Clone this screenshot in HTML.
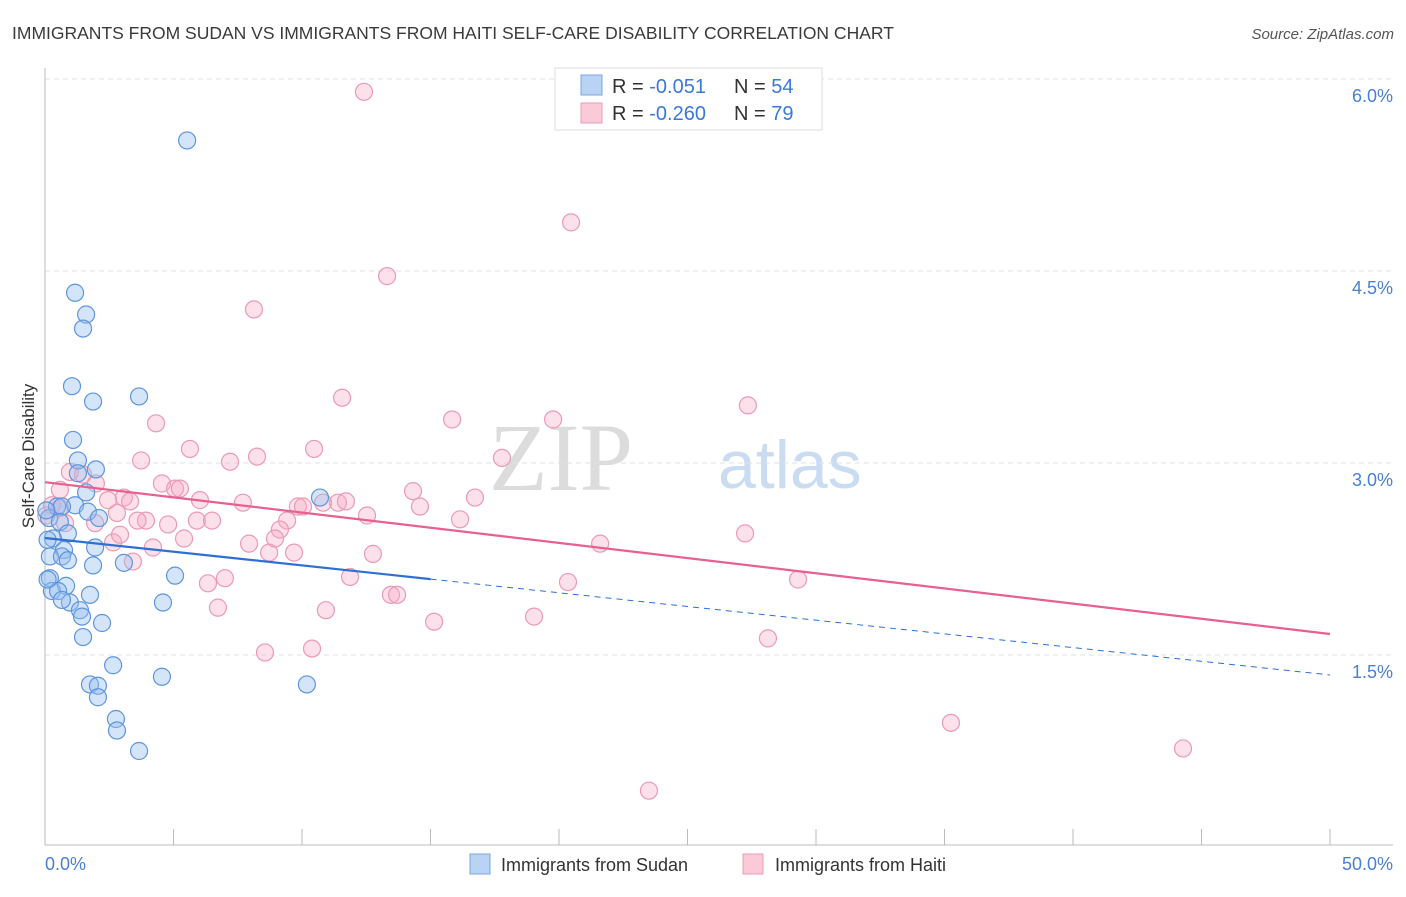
<!DOCTYPE html>
<html><head><meta charset="utf-8"><style>
body{margin:0;background:#fff;font-family:"Liberation Sans",sans-serif;}
svg text{font-family:"Liberation Sans",sans-serif;}
</style></head><body>
<svg id="chart" width="1406" height="892" viewBox="0 0 1406 892" xmlns="http://www.w3.org/2000/svg">
<text x="12" y="39" font-size="17.5" fill="#3a3a3a">IMMIGRANTS FROM SUDAN VS IMMIGRANTS FROM HAITI SELF-CARE DISABILITY CORRELATION CHART</text>
<text x="1394" y="39" font-size="15" fill="#555" font-style="italic" text-anchor="end">Source: ZipAtlas.com</text>
<g>
<text x="633" y="490" font-size="96" fill="#dcdcdc" text-anchor="end" font-family="Liberation Serif, serif" style="font-family:'Liberation Serif',serif">ZIP</text>
<text x="718" y="488" font-size="68" fill="#c9dcf2">atlas</text>
</g>
<g id="grid"></g>
<g id="axes"></g>
<text transform="translate(34,456) rotate(-90)" font-size="17" fill="#333" text-anchor="middle">Self-Care Disability</text>
<g id="pts"></g>
<g id="trends"></g>
<g>
<rect x="555" y="68" width="267" height="62" fill="#fff" stroke="#ddd"/>
<rect x="581" y="75" width="21" height="20" fill="#b9d3f5" stroke="#7aa6e3"/>
<rect x="581" y="103" width="21" height="20" fill="#fbcad8" stroke="#ee9bb6"/>
<text x="612" y="93" font-size="20" fill="#333">R = <tspan fill="#3b78d8"> -0.051</tspan><tspan x="734">N = </tspan><tspan fill="#3b78d8">54</tspan></text>
<text x="612" y="120" font-size="20" fill="#333">R = <tspan fill="#3b78d8">-0.260</tspan><tspan x="734">N = </tspan><tspan fill="#3b78d8">79</tspan></text>
</g>
<g>
<rect x="470" y="854" width="20" height="20" fill="#b9d3f5" stroke="#7aa6e3"/>
<text x="501" y="871" font-size="18" fill="#333">Immigrants from Sudan</text>
<rect x="743" y="854" width="20" height="20" fill="#fbcad8" stroke="#ee9bb6"/>
<text x="775" y="871" font-size="18" fill="#333">Immigrants from Haiti</text>
</g>
</svg>
<script>
const sudanX=[5.53,1.17,1.60,1.48,1.05,1.87,3.66,1.09,1.28,1.98,1.28,1.60,1.17,0.47,0.16,0.66,1.67,2.10,0.58,0.89,0.31,1.95,0.74,0.19,0.66,0.89,1.87,3.07,0.19,5.06,0.82,0.27,0.51,1.75,0.97,0.66,4.59,1.36,1.44,2.22,1.48,2.65,4.55,1.75,2.06,2.06,2.76,2.80,3.66,10.19,10.70,0.1,0.1,0.05];
const sudanY=[5.52,4.33,4.16,4.05,3.60,3.48,3.52,3.18,3.02,2.95,2.92,2.77,2.67,2.66,2.57,2.66,2.62,2.57,2.54,2.45,2.41,2.34,2.32,2.27,2.27,2.24,2.20,2.22,2.10,2.12,2.04,2.00,2.00,1.97,1.91,1.93,1.91,1.85,1.80,1.75,1.64,1.42,1.33,1.27,1.26,1.17,1.00,0.91,0.75,1.27,2.73,2.40,2.09,2.63];
const haitiX=[12.41,20.47,13.31,8.13,11.56,27.35,4.32,15.84,19.77,5.64,10.47,3.74,8.25,7.20,17.78,0.97,1.48,1.98,4.55,5.06,5.25,14.32,16.73,3.07,3.31,6.03,7.70,0.27,0.58,2.45,2.80,9.84,10.04,10.82,11.40,11.71,14.59,12.53,3.93,4.79,5.91,6.50,1.95,0.78,9.42,16.15,9.14,5.41,2.65,4.20,7.94,8.72,9.69,12.76,21.60,27.24,8.95,3.42,7.00,6.34,11.87,20.35,29.30,13.46,13.70,6.73,10.93,15.14,19.03,8.56,10.39,28.13,35.25,44.28,23.50,0.05,0.58,2.92,3.6];
const haitiY=[5.90,4.88,4.46,4.20,3.51,3.45,3.31,3.34,3.34,3.11,3.11,3.02,3.05,3.01,3.04,2.93,2.91,2.84,2.84,2.80,2.80,2.78,2.73,2.73,2.70,2.71,2.69,2.67,2.65,2.71,2.61,2.66,2.66,2.69,2.69,2.70,2.66,2.59,2.55,2.52,2.55,2.55,2.53,2.53,2.55,2.56,2.48,2.41,2.38,2.34,2.37,2.30,2.30,2.29,2.37,2.45,2.41,2.23,2.10,2.06,2.11,2.07,2.09,1.97,1.97,1.87,1.85,1.76,1.80,1.52,1.55,1.63,0.97,0.77,0.44,2.59,2.79,2.44,2.55];
const yTicks=[1.5,3.0,4.5,6.0];
const yTickLabels=["1.5%","3.0%","4.5%","6.0%"];
const xTicks=[0,5,10,15,20,25,30,35,40,45,50];
const trendSudan=[2.414,1.344]; const sudanSolidEnd=15.0;
const trendHaiti=[2.85,1.664];
const NS="http://www.w3.org/2000/svg";
const X=v=>45+v*25.7, Y=v=>463-(v-3)*128;
function mk(tag,attrs,parent){const e=document.createElementNS(NS,tag);for(const k in attrs)e.setAttribute(k,attrs[k]);parent.appendChild(e);return e;}
const grid=document.getElementById('grid'),axes=document.getElementById('axes');
yTicks.forEach((t,i)=>{
 const l=mk('line',{x1:45,x2:1393,y1:Y(t),y2:Y(t),stroke:'#e2e2e2','stroke-dasharray':'5,4'},grid);
 
 
 const tx=mk('text',{x:1393,y:Y(t)+23,'font-size':18,fill:'#4a7fd4','text-anchor':'end'},axes);
 tx.textContent=yTickLabels[i];
 
 
});
let a=mk('line',{x1:45,x2:45,y1:68,y2:845,stroke:'#bbb'},axes);


a=mk('line',{x1:45,x2:1393,y1:845,y2:845,stroke:'#bbb'},axes);


xTicks.forEach(t=>{const l=mk('line',{x1:X(t),x2:X(t),y1:829,y2:845,stroke:'#bbb'},axes);
 
 });
let xl=mk('text',{x:45,y:870,'font-size':18,fill:'#4a7fd4'},axes);xl.textContent='0.0%';


xl=mk('text',{x:1393,y:870,'font-size':18,fill:'#4a7fd4','text-anchor':'end'},axes);xl.textContent='50.0%';


const pts=document.getElementById('pts');
haitiX.forEach((x,i)=>{const c=mk('circle',{cx:X(x),cy:Y(haitiY[i]),r:8.5,fill:'rgba(246,170,196,0.35)',stroke:'#eb9ab4','stroke-width':1.2},pts);
 
 });
sudanX.forEach((x,i)=>{const c=mk('circle',{cx:X(x),cy:Y(sudanY[i]),r:8.5,fill:'rgba(150,190,240,0.4)',stroke:'#5d95de','stroke-width':1.2},pts);
 
 });
const tr=document.getElementById('trends');
const sy=x=>trendSudan[0]+(trendSudan[1]-trendSudan[0])*x/50;
let t=mk('line',{x1:X(0),y1:Y(trendHaiti[0]),x2:X(50),y2:Y(trendHaiti[1]),stroke:'#e7608e','stroke-width':2.2},tr);


t=mk('line',{x1:X(0),y1:Y(sy(0)),x2:X(sudanSolidEnd),y2:Y(sy(sudanSolidEnd)),stroke:'#2e6fd6','stroke-width':2.2},tr);


t=mk('line',{x1:X(sudanSolidEnd),y1:Y(sy(sudanSolidEnd)),x2:X(50),y2:Y(sy(50)),stroke:'#2e6fd6','stroke-width':1,'stroke-dasharray':'6,5'},tr);


</script>
</body></html>
